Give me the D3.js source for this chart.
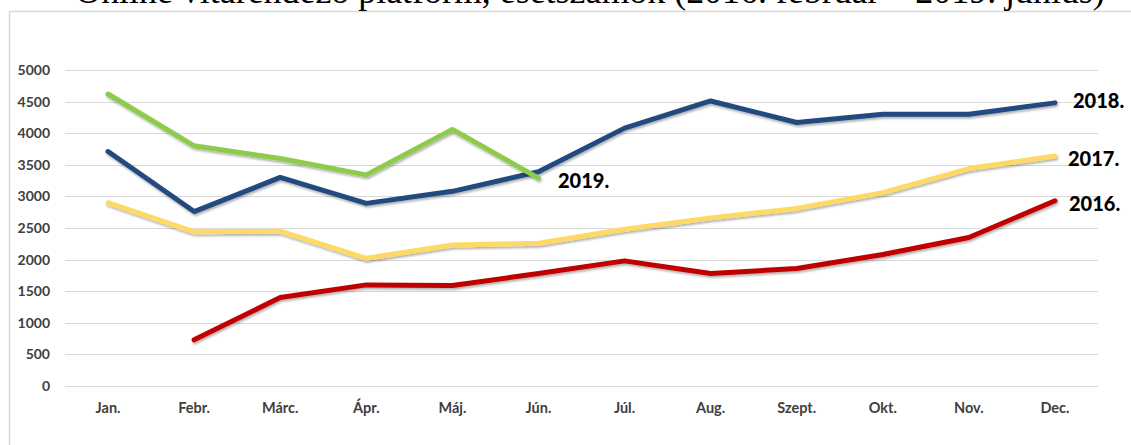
<!DOCTYPE html>
<html>
<head>
<meta charset="utf-8">
<script src="https://cdn.jsdelivr.net/npm/d3@7"></script>
<style>
  body { margin: 0; background: #fff; }
  svg { display: block; }
</style>
</head>
<body>
<div id="chart"></div>
<script>
// data
const months = ["Jan.", "Febr.", "Márc.", "Ápr.", "Máj.", "Jún.", "Júl.", "Aug.", "Szept.", "Okt.", "Nov.", "Dec."];
const v2016 = [null, 730, 1400, 1600, 1590, 1780, 1980, 1780, 1860, 2080, 2350, 2930];
const v2017 = [2900, 2440, 2450, 2020, 2230, 2260, 2480, 2660, 2810, 3060, 3440, 3640];
const v2018 = [3710, 2760, 3300, 2890, 3080, 3390, 4080, 4510, 4170, 4300, 4300, 4480];
const v2019 = [4620, 3800, 3600, 3340, 4060, 3290];
const yTicks = [0, 500, 1000, 1500, 2000, 2500, 3000, 3500, 4000, 4500, 5000];
const titleText = "Online vitarendező platform, esetszámok (2016. február – 2019. június)";

const W = 1131, H = 445;
const PLOT = {left: 65, right: 1098, top: 70, bottom: 386};

let svg = d3.select("#chart").append("svg")
  .attr("width", W)
  .attr("height", H);

// soft shadow like the office chart
let defs = svg.append("defs");
defs.append("filter").attr("id", "shadow")
  .attr("x", "-5%").attr("y", "-20%").attr("width", "110%").attr("height", "150%")
  .append("feDropShadow")
    .attr("dx", 1).attr("dy", 2)
    .attr("stdDeviation", 1.2)
    .attr("flood-color", "#000")
    .attr("flood-opacity", 0.3);

// frame of the chart area (runs off the right and bottom edge)
svg.append("rect")
  .attr("x", 9.5).attr("y", 11.5)
  .attr("width", W + 20).attr("height", H + 20)
  .attr("fill", "none")
  .attr("stroke", "#d9d9d9")
  .attr("stroke-width", 1.5);

// title, cut at the top like the source
let title = svg.append("text")
  .attr("x", 590)
  .attr("y", 3)
  .attr("text-anchor", "middle")
  .style("font-family", "'Liberation Serif', 'DejaVu Serif', serif")
  .style("font-size", "30px")
  .attr("fill", "#000")
  .text(titleText);
let tw = title.node().getComputedTextLength();
title.style("font-size", (30 * 1030 / tw) + "px");

let xScale = d3.scaleBand()
  .domain(months)
  .range([PLOT.left, PLOT.right]);
let yScale = d3.scaleLinear()
  .domain([0, 5000])
  .range([PLOT.bottom, PLOT.top]);

// grid lines
svg.append("g")
  .selectAll("line")
  .data(yTicks)
  .join("line")
    .attr("x1", PLOT.left)
    .attr("x2", PLOT.right)
    .attr("y1", d => Math.round(yScale(d)) + 0.5)
    .attr("y2", d => Math.round(yScale(d)) + 0.5)
    .attr("stroke", "#d9d9d9")
    .attr("stroke-width", 1.2);

// y axis labels
let yAxis = d3.axisLeft(yScale).tickValues(yTicks).tickFormat(d3.format("d")).tickSize(0).tickPadding(0);
svg.append("g")
  .attr("transform", "translate(50,0)")
  .call(yAxis)
  .call(g => g.select(".domain").remove())
  .selectAll("text")
    .style("font-family", "Lato, 'Open Sans', sans-serif")
    .style("font-size", "14px")
    .style("font-weight", "bold")
    .attr("fill", "#404040");

// x axis labels
let xAxis = d3.axisBottom(xScale).tickSize(0).tickPadding(0);
svg.append("g")
  .attr("transform", "translate(0,403)")
  .call(xAxis)
  .call(g => g.select(".domain").remove())
  .selectAll("text")
    .style("font-family", "Lato, 'Open Sans', sans-serif")
    .style("font-size", "14.5px")
    .style("font-weight", "bold")
    .attr("fill", "#404040");

// series lines
const series = [
  {name: "2016.", values: v2016, color: "#c00000", lx: 1069, ly: 211},
  {name: "2017.", values: v2017, color: "#ffd966", lx: 1068, ly: 166},
  {name: "2018.", values: v2018, color: "#224a80", lx: 1073, ly: 108},
  {name: "2019.", values: v2019, color: "#8dcc4c", lx: 558, ly: 188}
];

let line = d3.line()
  .defined(d => d.v != null)
  .x(d => xScale(d.m) + xScale.bandwidth() / 2)
  .y(d => yScale(d.v));

svg.append("g")
  .selectAll("path")
  .data(series)
  .join("path")
    .attr("d", s => line(s.values.map((v, i) => ({m: months[i], v: v}))))
    .attr("fill", "none")
    .attr("stroke", s => s.color)
    .attr("stroke-width", 5)
    .attr("stroke-linejoin", "round")
    .attr("stroke-linecap", "round")
    .attr("filter", "url(#shadow)");

// year labels
svg.append("g")
  .selectAll("text")
  .data(series)
  .join("text")
    .attr("x", s => s.lx)
    .attr("y", s => s.ly)
    .style("font-family", "Lato, 'Open Sans', sans-serif")
    .style("font-size", "20px")
    .style("font-weight", "900")
    .attr("fill", "#000")
    .text(s => s.name);
</script>
</body>
</html>
